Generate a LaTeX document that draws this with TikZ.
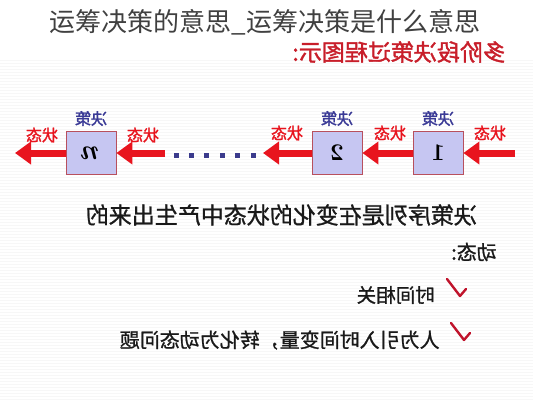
\documentclass[tikz,border=0pt]{standalone}
\usepackage{fontspec}
\usepackage{graphicx,xcolor}
\newfontfamily\cjk{Noto Sans CJK SC}
\newfontfamily\cjkmid[FakeBold=1.6]{Noto Sans CJK SC}
\newfontfamily\cjkbody[FakeBold=1]{Noto Sans CJK SC}
\usetikzlibrary{arrows.meta,positioning}

\definecolor{stred}{HTML}{E8141E}
\definecolor{hdred}{HTML}{C81E2A}
\definecolor{boxfill}{HTML}{C6C6F2}
\definecolor{boxline}{HTML}{B8505E}
\definecolor{decblue}{HTML}{3A3A96}
\definecolor{dotblue}{HTML}{3A3A8C}
\definecolor{tickred}{HTML}{C0142C}

\tikzset{
  stage/.style={draw=boxline,fill=boxfill,line width=0.8pt,minimum width=50pt,minimum height=43pt,inner sep=0pt,font=\bfseries\fontsize{24}{24}\selectfont},
  choice/.style={text=decblue,inner sep=1pt,font=\cjkmid\fontsize{16}{16}\selectfont},
  statelbl/.style={text=stred,inner sep=1pt,font=\cjkmid\fontsize{16}{16}\selectfont},
  flow/.style={stred,line width=7pt,-{Triangle[length=16pt,width=22pt]}},
  body/.style={anchor=east,inner sep=0pt,text=black!90,font=\cjkbody\fontsize{20}{20}\selectfont},
  tick/.style={tickred,line width=2.4pt,line cap=round,line join=round}
}

\begin{document}
\begin{tikzpicture}[x=1pt,y=-1pt]
  \useasboundingbox (0,0) rectangle (533,400);
  \fill[white] (0,0) rectangle (533,400);
  \foreach \y in {60,63,...,400}
    \draw[gray!6,line width=1pt] (0,\y) -- (533,\y);

  % title and heading
  \node[inner sep=0pt,text=black!75,font=\cjk\fontsize{26}{26}\selectfont] (title) at (265,22) {运筹决策的意思\_运筹决策是什么意思};
  \node[anchor=east,inner sep=0pt,text=hdred,font=\cjkmid\fontsize{23}{23}\selectfont] (head) at (506,52) {\reflectbox{多阶段决策过程图示:}};

  % stages
  \node[stage] (b1) at (438,153) {\reflectbox{1}};
  \node[stage] (b2) at (337,153) {\reflectbox{2}};
  \node[stage,font=\bfseries\itshape\fontsize{28}{28}\selectfont] (bn) at (91,153) {\reflectbox{n}};
  \node[choice,above=4pt of b1] (d1) {\reflectbox{决策}};
  \node[choice,above=4pt of b2] (d2) {\reflectbox{决策}};
  \node[choice,above=4pt of bn] (dn) {\reflectbox{决策}};

  \coordinate (in) at (515,153);
  \coordinate (gapR) at (263,153);
  \coordinate (gapL) at (165,153);
  \coordinate (out) at (15,153);

  \draw[flow] (in) -- (b1.east);
  \draw[flow] (b1.west) -- (b2.east);
  \draw[flow] (b2.west) -- (gapR);
  \draw[flow] (gapL) -- (bn.east);
  \draw[flow] (bn.west) -- (out);
  \foreach \x in {176,191.4,...,253}
    \fill[dotblue] (\x-2.5,152.5) rectangle (\x+2.5,157.5);

  \node[statelbl] (s0) at (490,133) {\reflectbox{状态}};
  \node[statelbl] (s1) at (390,133) {\reflectbox{状态}};
  \node[statelbl] (s2) at (287,133) {\reflectbox{状态}};
  \node[statelbl] (s3) at (143,135) {\reflectbox{状态}};
  \node[statelbl] (s4) at (42,135) {\reflectbox{状态}};

  % text below
  \node[body,font=\cjkbody\fontsize{23}{23}\selectfont] (line1) at (477,215) {\reflectbox{决策序列是在变化的状态中产生出来的}};
  \node[body] (line2) at (497,252) {\reflectbox{动态:}};
  \node[body,font=\cjkbody\fontsize{19.5}{19.5}\selectfont] (item1) at (435,295) {\reflectbox{时间相关}};
  \node[body] (item2) at (440,340) {\reflectbox{人为引入时间变量，转化为动态问题}};
  \draw[tick] (447,279) -- (460,296) -- (466,289);
  \draw[tick] (451,323) -- (464,340) -- (470,333);
\end{tikzpicture}
\end{document}
